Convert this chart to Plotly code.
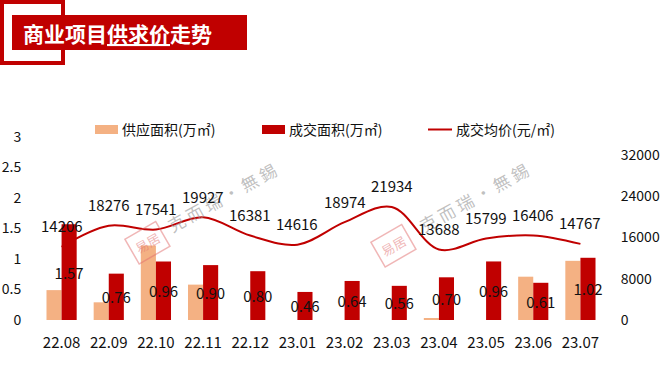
import plotly.graph_objects as go

months = ["22.08", "22.09", "22.10", "22.11", "22.12", "23.01",
          "23.02", "23.03", "23.04", "23.05", "23.06", "23.07"]
supply_area = [0.49, 0.29, 1.22, 0.58, 0, 0, 0, 0, 0.02, 0, 0.71, 0.97]
deal_area = [1.57, 0.76, 0.96, 0.90, 0.80, 0.46, 0.64, 0.56, 0.70, 0.96, 0.61, 1.02]
avg_price = [14206, 18276, 17541, 19927, 16381, 14616, 18974, 21934, 13688, 15799, 16406, 14767]
left_ticks = [0, 0.5, 1, 1.5, 2, 2.5, 3]
left_tick_text = ["0", "0.5", "1", "1.5", "2", "2.5", "3"]
right_ticks = [0, 8000, 16000, 24000, 32000]
right_tick_text = ["0", "8000", "16000", "24000", "32000"]

W, H = 660, 367
L, R, T, B = 38, 56, 137, 47
PW, PH = W - L - R, H - T - B

def px(x):
    return (x - L) / PW

def py(y):
    return (H - B - y) / PH

FONT = "Noto Sans CJK SC"
RED = "#C00000"
ORANGE = "#F4B183"
TXT = "#111111"

fig = go.Figure()
fig.add_trace(go.Bar(
    x=months, y=supply_area, name="供应面积(万㎡)",
    marker=dict(color=ORANGE, line=dict(width=0)), showlegend=False,
))
fig.add_trace(go.Bar(
    x=months, y=deal_area, name="成交面积(万㎡)",
    marker=dict(color=RED, line=dict(width=0)), showlegend=False,
    text=[f"{v:.2f}" for v in deal_area], textposition="inside",
    insidetextanchor="middle", textangle=0, constraintext="none",
    insidetextfont=dict(color=TXT, size=15, family=FONT), cliponaxis=False,
))
fig.add_trace(go.Scatter(
    x=months, y=avg_price, name="成交均价(元/㎡)", yaxis="y2",
    mode="lines", line=dict(color=RED, width=2, shape="spline", smoothing=1.0),
    showlegend=False,
))

annotations = []

# watermarks (drawn first, under the labels)
for cx, cy, sx, sy in [(221, 197, 147, 243), (473, 197, 393, 246)]:
    annotations.append(dict(
        x=px(cx), y=py(cy), xref="paper", yref="paper",
        xanchor="center", yanchor="middle",
        text="克\u00a0而\u00a0瑞\u00a0·\u00a0無\u00a0錫", showarrow=False, textangle=-29,
        font=dict(size=17, color="rgba(150,150,150,0.6)", family=FONT),
    ))
    annotations.append(dict(
        x=px(sx), y=py(sy), xref="paper", yref="paper",
        xanchor="center", yanchor="middle",
        text="易居", showarrow=False, textangle=-30,
        font=dict(size=13, color="rgba(225,110,110,0.5)", family=FONT),
        bordercolor="rgba(225,110,110,0.5)", borderwidth=1.5, borderpad=4,
    ))

for i, v in enumerate(avg_price):
    annotations.append(dict(
        x=i, y=v, xref="x", yref="y2", text=str(v), showarrow=False,
        xanchor="center", yanchor="middle",
        yshift=21, font=dict(size=15, color=TXT, family=FONT),
    ))

# custom legend
leg_y = 129
shapes = [
    dict(type="rect", xref="paper", yref="paper", x0=px(95), x1=px(118),
         y0=py(125), y1=py(134), fillcolor=ORANGE, line=dict(width=0)),
    dict(type="rect", xref="paper", yref="paper", x0=px(262), x1=px(285),
         y0=py(125), y1=py(134), fillcolor=RED, line=dict(width=0)),
    dict(type="line", xref="paper", yref="paper", x0=px(428), x1=px(452),
         y0=py(leg_y + 0.5), y1=py(leg_y + 0.5), line=dict(color=RED, width=2)),
    # title frame and banner
    dict(type="rect", xref="paper", yref="paper", x0=px(2), x1=px(63),
         y0=py(63), y1=py(2), fillcolor="rgba(0,0,0,0)", line=dict(color=RED, width=4)),
    dict(type="rect", xref="paper", yref="paper", x0=px(12), x1=px(247),
         y0=py(50), y1=py(15), fillcolor=RED, line=dict(width=0)),
]
for x0, label in [(120, "供应面积(万㎡)"), (287, "成交面积(万㎡)"), (454, "成交均价(元/㎡)")]:
    annotations.append(dict(
        x=px(x0), y=py(leg_y), xref="paper", yref="paper", text=label,
        showarrow=False, xanchor="left", yanchor="middle",
        font=dict(size=14, color=TXT, family=FONT),
    ))

annotations.append(dict(
    x=px(21), y=py(33), xref="paper", yref="paper",
    text="<b>商业项目<u>供求价</u>走势</b>", showarrow=False,
    xanchor="left", yanchor="middle",
    font=dict(size=21, color="white", family=FONT),
))

fig.update_layout(
    width=W, height=H,
    margin=dict(l=L, r=R, t=T, b=B, pad=0, autoexpand=False),
    paper_bgcolor="white", plot_bgcolor="white",
    barmode="group", bargap=0.36, bargroupgap=0,
    font=dict(family=FONT, color=TXT, size=14),
    xaxis=dict(type="category", range=[-0.5, len(months) - 0.5], automargin=False,
               showgrid=False, zeroline=False, showline=False, tickangle=0,
               ticks="outside", ticklen=9, tickcolor="rgba(0,0,0,0)",
               tickfont=dict(size=15, family=FONT, color=TXT)),
    yaxis=dict(range=[0, 3], tickvals=left_ticks, ticktext=left_tick_text, automargin=False,
               showgrid=False, zeroline=False, showline=False,
               ticks="outside", ticklen=13, tickcolor="rgba(0,0,0,0)",
               tickfont=dict(size=14, family=FONT, color=TXT)),
    yaxis2=dict(range=[0, 35500], tickvals=right_ticks, ticktext=right_tick_text,
                overlaying="y", side="right", automargin=False,
                showgrid=False, zeroline=False, showline=False,
                ticks="outside", ticklen=13, tickcolor="rgba(0,0,0,0)",
                tickfont=dict(size=14, family=FONT, color=TXT)),
    shapes=shapes, annotations=annotations, showlegend=False,
)

fig.write_html("out.html", config={"displayModeBar": False},
               post_script="document.body.style.margin='0px';")
